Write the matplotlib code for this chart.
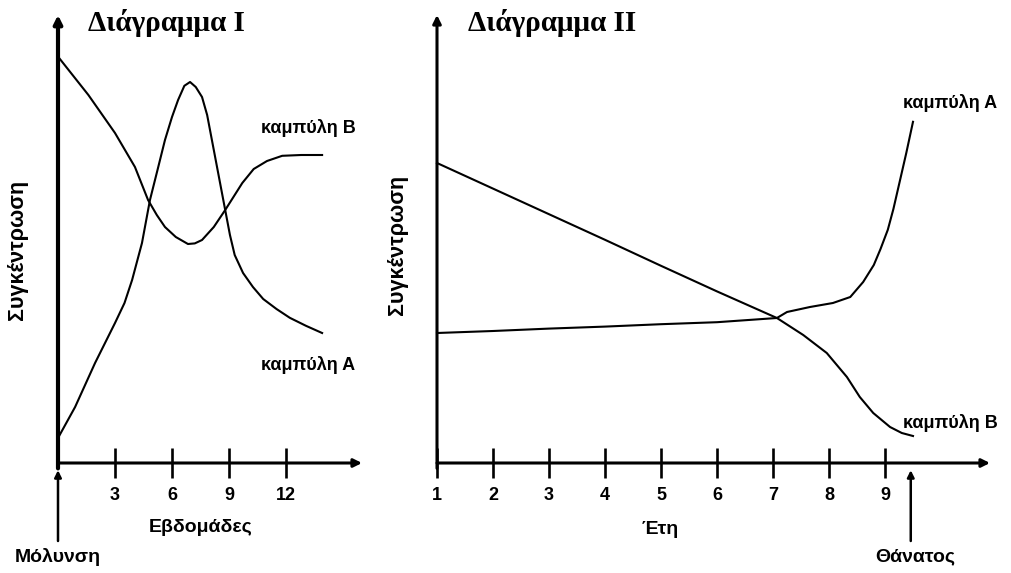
import matplotlib
matplotlib.use('Agg')
import matplotlib.pyplot as plt

plt.rcParams['font.family'] = ['Liberation Sans', 'DejaVu Sans']

# Diagram I (weeks after infection)
weeks_A1 = [0, 0.9, 1.95, 3.0, 3.5, 3.9, 4.42, 4.84, 5.25, 5.63, 6.0, 6.32, 6.65, 6.95,
            7.25, 7.58, 7.85, 8.1, 8.45, 8.8, 9.05, 9.3, 9.74, 10.26, 10.8,
            11.5, 12.2, 13.05, 13.9]
conc_A1 = [6.25, 14, 25, 35, 40, 45.75, 55, 65.75, 73.5, 80.75, 86.5, 90.75, 94.3, 95.25,
           94, 91.5, 87, 80.75, 72, 63.25, 57, 52, 47.5, 44, 41,
           38.5, 36.3, 34.3, 32.5]
weeks_B1 = [0, 1.6, 3.0, 4.05, 4.74, 5.2, 5.63, 6.2, 6.84, 7.2, 7.58, 8.2, 8.8, 9.3,
            9.7, 10.3, 11.0, 11.8, 12.8, 13.9]
conc_B1 = [101.6, 92, 82.5, 74, 65.75, 62, 59, 56.5, 54.75, 54.9, 55.75, 59, 63.25, 67,
           70, 73.5, 75.5, 76.8, 77, 77]
ticks_I = [3, 6, 9, 12]

# Diagram II (years)
years_A2 = [1, 2, 3, 4, 5, 6, 7.07, 7.25, 7.66, 8.07, 8.38, 8.61, 8.8, 8.92,
            9.05, 9.15, 9.27, 9.38, 9.5]
conc_A2 = [32.5, 33, 33.6, 34.1, 34.7, 35.2, 36.25, 37.75, 39, 40, 41.5, 45.25, 49.5, 53.5,
           58.3, 63.5, 70.8, 77.5, 85.3]
years_B2 = [1, 2, 3, 4, 5, 6, 7.07, 7.54, 7.96, 8.32, 8.55, 8.79, 9.09, 9.3, 9.5]
conc_B2 = [75, 68.6, 62.2, 55.8, 49.3, 42.9, 36.25, 32, 27.5, 21.5, 16.5, 12.5, 9, 7.5, 6.75]
ticks_II = [1, 2, 3, 4, 5, 6, 7, 8, 9]

W, H = 1012, 573
fig = plt.figure(figsize=(W / 100, H / 100), dpi=100)
ax1 = fig.add_axes([58 / W, 110 / H, 304 / W, 448 / H])
ax2 = fig.add_axes([437 / W, 110 / H, 553 / W, 448 / H])

ax1.set_xlim(0, 16)
ax2.set_xlim(1, 1 + 553 / 56)
for ax in (ax1, ax2):
    ax.set_ylim(0, 112)
    for s in ax.spines.values():
        s.set_visible(False)
    ax.set_yticks([])
    ax.tick_params(axis='x', direction='inout', length=22, width=1.9, pad=6,
                   labelsize=13)
    ax.set_facecolor('none')

ax1.set_xticks(ticks_I)
ax1.set_xticklabels([str(t) for t in ticks_I], fontweight='bold')
ax2.set_xticks(ticks_II)
ax2.set_xticklabels([str(t) for t in ticks_II], fontweight='bold')


def axis_arrows(ax, lw_y, lw_x):
    ax.annotate('', xy=(0, 1), xytext=(0, -0.012), xycoords='axes fraction',
                arrowprops=dict(arrowstyle='-|>', lw=lw_y, color='k',
                                shrinkA=0, shrinkB=0, mutation_scale=12),
                annotation_clip=False)
    ax.annotate('', xy=(1, 0), xytext=(0, 0), xycoords='axes fraction',
                arrowprops=dict(arrowstyle='-|>', lw=lw_x, color='k',
                                shrinkA=0, shrinkB=0, mutation_scale=12),
                annotation_clip=False)


axis_arrows(ax1, 3.0, 2.2)
axis_arrows(ax2, 2.2, 2.2)

line = dict(color='k', lw=1.5, clip_on=False, solid_joinstyle='round')
ax1.plot(weeks_A1, conc_A1, **line)
ax1.plot(weeks_B1, conc_B1, **line)
ax2.plot(years_A2, conc_A2, **line)
ax2.plot(years_B2, conc_B2, **line)

serif = ['Liberation Serif', 'DejaVu Serif']
ax1.text(1.6, 110, 'Διάγραμμα I', family=serif, fontweight='bold', fontsize=21,
         va='center', ha='left', clip_on=False)
ax2.text(1.55, 110, 'Διάγραμμα II', family=serif, fontweight='bold', fontsize=21,
         va='center', ha='left', clip_on=False)

lab = dict(fontweight='bold', fontsize=13, va='center', ha='left', clip_on=False)
ax1.text(10.7, 83.75, 'καμπύλη Β', **lab)
ax1.text(10.7, 24.5, 'καμπύλη Α', **lab)
ax2.text(9.32, 90, 'καμπύλη Α', **lab)
ax2.text(9.32, 10, 'καμπύλη Β', **lab)

ax1.text(7.5, -16, 'Εβδομάδες', fontweight='bold', fontsize=14, ha='center',
         va='center', clip_on=False)
ax2.text(4.98, -16.75, 'Έτη', fontweight='bold', fontsize=14, ha='center',
         va='center', clip_on=False)

fig.text(18 / W, 1 - 250 / H, 'Συγκέντρωση', rotation=90, fontweight='bold',
         fontsize=15.5, ha='center', va='center')
fig.text(398 / W, 1 - 245 / H, 'Συγκέντρωση', rotation=90, fontweight='bold',
         fontsize=15.5, ha='center', va='center')

# infection / death markers
ax1.annotate('', xy=(0, -1.8), xytext=(0, -19.5), xycoords='data',
             arrowprops=dict(arrowstyle='-|>', lw=1.8, color='k',
                             shrinkA=0, shrinkB=0, mutation_scale=10),
             annotation_clip=False)
ax1.text(0, -23.5, 'Μόλυνση', fontweight='bold', fontsize=14, ha='center',
         va='center', clip_on=False)
ax2.annotate('', xy=(9.46, -1.8), xytext=(9.46, -19.5), xycoords='data',
             arrowprops=dict(arrowstyle='-|>', lw=1.8, color='k',
                             shrinkA=0, shrinkB=0, mutation_scale=10),
             annotation_clip=False)
ax2.text(9.54, -23.5, 'Θάνατος', fontweight='bold', fontsize=14, ha='center',
         va='center', clip_on=False)

fig.savefig('out.png', dpi=100, facecolor='white')
